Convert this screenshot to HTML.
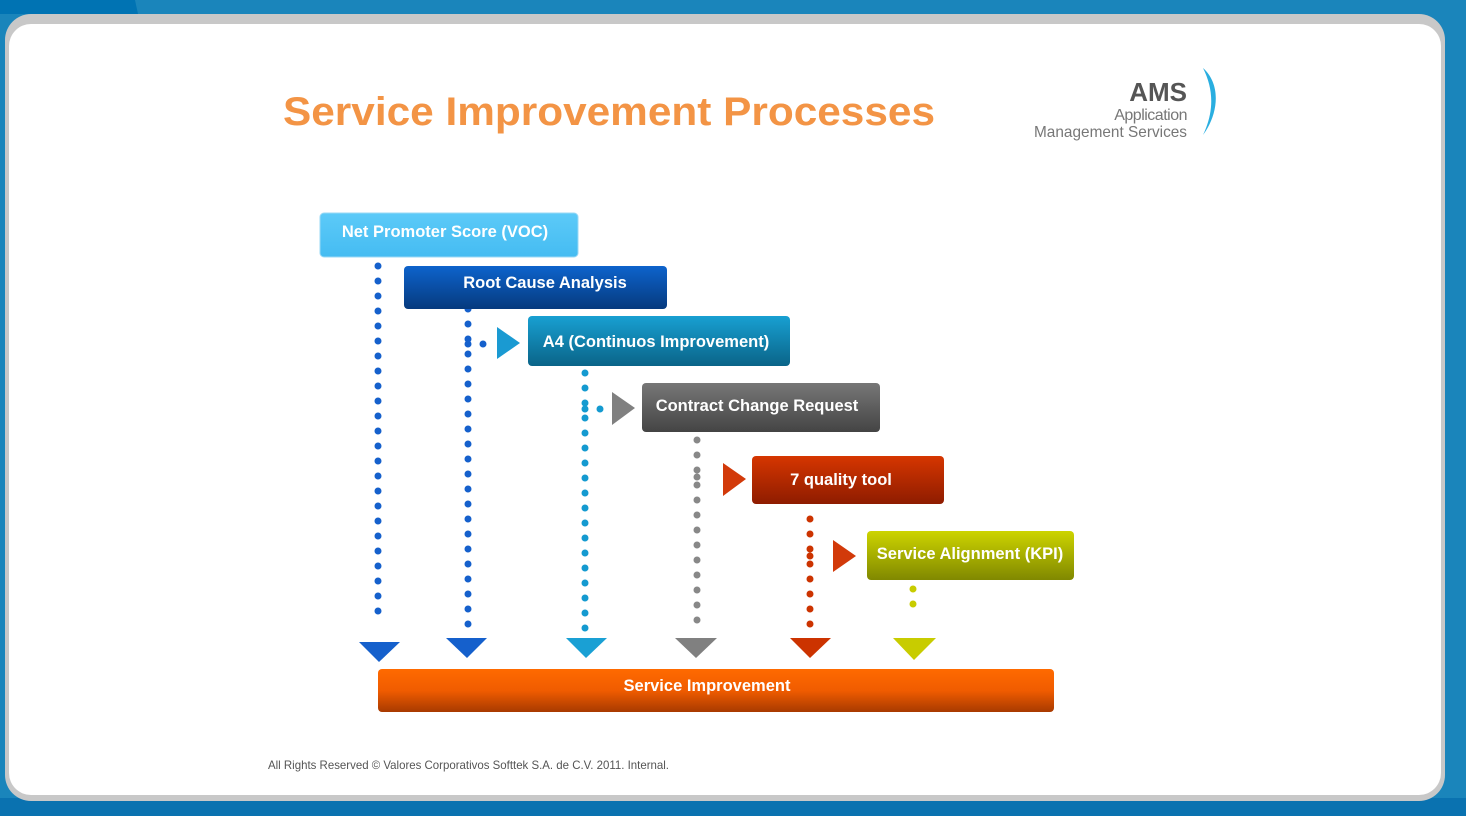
<!DOCTYPE html>
<html><head><meta charset="utf-8"><style>
html,body{margin:0;padding:0;width:1466px;height:816px;overflow:hidden;background:#1a85bb;}
svg{display:block}
text{font-family:"Liberation Sans",Arial,sans-serif}
</style></head><body>
<svg width="1466" height="816" viewBox="0 0 1466 816" xmlns="http://www.w3.org/2000/svg">
<defs>
<linearGradient id="gB" x1="0" y1="0" x2="0" y2="1"><stop offset="0" stop-color="#0d63cc"/><stop offset="1" stop-color="#063a7e"/></linearGradient>
<linearGradient id="gT" x1="0" y1="0" x2="0" y2="1"><stop offset="0" stop-color="#18a0d2"/><stop offset="1" stop-color="#0a6488"/></linearGradient>
<linearGradient id="gG" x1="0" y1="0" x2="0" y2="1"><stop offset="0" stop-color="#777"/><stop offset="1" stop-color="#444"/></linearGradient>
<linearGradient id="gR" x1="0" y1="0" x2="0" y2="1"><stop offset="0" stop-color="#d63600"/><stop offset="1" stop-color="#8e1c00"/></linearGradient>
<linearGradient id="gY" x1="0" y1="0" x2="0" y2="1"><stop offset="0" stop-color="#cdd400"/><stop offset="1" stop-color="#808800"/></linearGradient>
<linearGradient id="gO" x1="0" y1="0" x2="0" y2="1"><stop offset="0" stop-color="#ff6a00"/><stop offset="0.5" stop-color="#f05c00"/><stop offset="1" stop-color="#a83a00"/></linearGradient>
<linearGradient id="gN" x1="0" y1="0" x2="0" y2="1"><stop offset="0" stop-color="#5ccaf8"/><stop offset="1" stop-color="#45bcf2"/></linearGradient>
</defs>
<polygon points="0,0 135,0 138,14 0,14" fill="#0073b3"/>
<rect x="0" y="798" width="1466" height="18" fill="#0a72b0"/>
<rect x="5" y="14" width="1440" height="787" rx="26" fill="#c8c8c8"/>
<rect x="9" y="24" width="1432" height="771" rx="22" fill="#fff"/>

<text x="283" y="125" font-size="40" font-weight="bold" fill="#f39445" textLength="652" lengthAdjust="spacingAndGlyphs">Service Improvement Processes</text>

<text x="1187" y="101" font-size="26" font-weight="bold" fill="#555" text-anchor="end">AMS</text>
<text x="1187" y="120" font-size="16" fill="#777" text-anchor="end" letter-spacing="-0.5">Application</text>
<text x="1034" y="137" font-size="16" fill="#777" textLength="153" lengthAdjust="spacingAndGlyphs">Management Services</text>
<path d="M1203,68 C1222,85 1218,115 1203,135 C1214,112 1214,90 1203,68 Z" fill="#2aaee0"/>

<g stroke-linecap="round" stroke-width="7" stroke-dasharray="0 15" fill="none">
<line x1="378" y1="266" x2="378" y2="615" stroke="#1560cc"/>
<line x1="468" y1="309" x2="468" y2="625" stroke="#1560cc"/>
<line x1="468" y1="344" x2="486" y2="344" stroke="#1560cc"/>
<line x1="585" y1="373" x2="585" y2="630" stroke="#149ad0"/>
<line x1="585" y1="409" x2="603" y2="409" stroke="#149ad0"/>
<line x1="697" y1="440" x2="697" y2="621" stroke="#888"/>
<line x1="697" y1="477" x2="712" y2="477" stroke="#888"/>
<line x1="810" y1="519" x2="810" y2="626" stroke="#cc3300"/>
<line x1="810" y1="556" x2="825" y2="556" stroke="#cc3300"/>
<line x1="913" y1="589" x2="913" y2="619" stroke="#c8cc00"/>
</g>

<polygon points="497,327 520,343 497,359" fill="#1a9ad2"/>
<polygon points="612,392 635,408 612,425" fill="#808080"/>
<polygon points="723,463 746,479 723,496" fill="#d23a0a"/>
<polygon points="833,540 856,556 833,572" fill="#d23a0a"/>

<polygon points="359,642 400,642 379,662" fill="#1560cc"/>
<polygon points="446,638 487,638 467,658" fill="#1560cc"/>
<polygon points="566,638 607,638 586,658" fill="#1aa0d4"/>
<polygon points="675,638 717,638 696,658" fill="#808080"/>
<polygon points="790,638 831,638 810,658" fill="#cc3300"/>
<polygon points="893,638 936,638 914,660" fill="#c8cc00"/>

<g font-weight="bold" fill="#fff" text-anchor="middle">
<rect x="320" y="213" width="258" height="44" rx="4" fill="url(#gN)" stroke="#9ad8f5" stroke-width="1"/>
<text x="445" y="237" font-size="16.5">Net Promoter Score (VOC)</text>
<rect x="404" y="266" width="263" height="43" rx="4" fill="url(#gB)"/>
<text x="545" y="288" font-size="16.5">Root Cause Analysis</text>
<rect x="528" y="316" width="262" height="50" rx="4" fill="url(#gT)"/>
<text x="656" y="347" font-size="16.5">A4 (Continuos Improvement)</text>
<rect x="642" y="383" width="238" height="49" rx="4" fill="url(#gG)"/>
<text x="757" y="411" font-size="16.5">Contract Change Request</text>
<rect x="752" y="456" width="192" height="48" rx="4" fill="url(#gR)"/>
<text x="841" y="485" font-size="16.5">7 quality tool</text>
<rect x="867" y="531" width="207" height="49" rx="4" fill="url(#gY)"/>
<text x="970" y="559" font-size="16.5">Service Alignment (KPI)</text>
<rect x="378" y="669" width="676" height="43" rx="4" fill="url(#gO)"/>
<text x="707" y="691" font-size="16.5">Service Improvement</text>
</g>

<text x="268" y="769" font-size="12" fill="#555" textLength="401" lengthAdjust="spacingAndGlyphs">All Rights Reserved © Valores Corporativos Softtek S.A. de C.V. 2011. Internal.</text>
</svg>
</body></html>
